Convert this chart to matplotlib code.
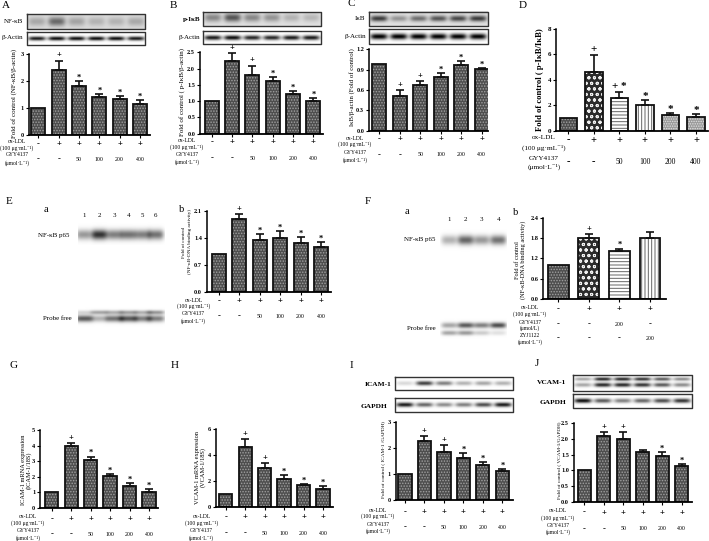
import numpy as np
from matplotlib import pyplot as plt

plt.rcParams['font.family'] = ['Liberation Serif', 'DejaVu Serif']
plt.rcParams['mathtext.default'] = 'regular'
plt.rcParams['hatch.linewidth'] = 0.7

W, H = 709, 541

# bar values and upper error ends
a_vals = [1.0, 2.4, 1.8, 1.4, 1.35, 1.15]
a_errs = [1.0, 2.75, 2.0, 1.52, 1.43, 1.3]
b_vals = [1.0, 2.22, 1.8, 1.61, 1.21, 0.99]
b_errs = [1.0, 2.47, 2.09, 1.75, 1.31, 1.1]
c_vals = [0.99, 0.51, 0.67, 0.79, 0.97, 0.91]
c_errs = [0.99, 0.6, 0.73, 0.85, 1.03, 0.93]
d_vals = [1.0, 4.6, 2.6, 2.0, 1.25, 1.1]
d_errs = [1.0, 5.9, 3.0, 2.4, 1.4, 1.3]
e_vals = [1.0, 1.9, 1.36, 1.39, 1.27, 1.16]
e_errs = [1.0, 2.01, 1.5, 1.59, 1.43, 1.29]
f_vals = [1.0, 1.8, 1.42, 1.81]
f_errs = [1.0, 1.92, 1.49, 1.97]
g_vals = [1.0, 4.0, 3.07, 2.02, 1.44, 1.05]
g_errs = [1.0, 4.15, 3.3, 2.15, 1.6, 1.22]
h_vals = [1.0, 4.6, 3.0, 2.15, 1.7, 1.42]
h_errs = [1.0, 5.2, 3.38, 2.45, 1.78, 1.6]
i_vals = [1.0, 2.27, 1.85, 1.63, 1.37, 1.12]
i_errs = [1.0, 2.47, 2.12, 1.81, 1.46, 1.2]
j_vals = [1.0, 2.1, 2.0, 1.57, 1.47, 1.13]
j_errs = [1.0, 2.22, 2.22, 1.66, 1.57, 1.19]

# significance marks over the bars
a_marks = ['', '+', '*', '*', '*', '*']
b_marks = ['', '+', '+', '*', '*', '*']
c_marks = ['', '+', '+', '*', '*', '*']
d_marks = ['', '+', '+ *', '*', '*', '*']
e_marks = ['', '+', '*', '*', '*', '*']
f_marks = ['', '+', '*', '']
g_marks = ['', '+', '*', '*', '*', '*']
h_marks = ['', '+', '+', '*', '*', '*']
i_marks = ['', '+', '+', '*', '*', '*']
j_marks = ['', '+', '+', '', '*', '*']

# treatment rows
ox_signs = ['-', '+', '+', '+', '+', '+']
gyy_doses = ['-', '-', '50', '100', '200', '400']
f_ox_signs = ['-', '+', '+', '+']
f_gyy_doses = ['-', '-', '200', '-']
f_zyj_doses = ['-', '-', '-', '200']

# band strengths in the blots
a_blot = [0.2, 0.45, 0.22, 0.16, 0.16, 0.2]
a_actin = [0.9, 0.95, 0.95, 0.95, 0.95, 0.9]
b_blot = [0.35, 0.55, 0.35, 0.3, 0.18, 0.16]
b_actin = [0.9, 0.95, 0.85, 0.85, 0.9, 0.9]
c_blot = [0.65, 0.3, 0.45, 0.55, 0.6, 0.65]
c_actin = [1.0, 1.0, 1.0, 1.0, 1.0, 1.0]
e_p65 = [0.4, 0.8, 0.5, 0.55, 0.5, 0.55]
e_probe = [0.65, 0.3, 0.55, 0.65, 0.5, 0.5]
e_probe2 = [0.15, 0.35, 0.3, 0.35, 0.3, 0.4]
f_p65 = [0.3, 0.6, 0.4, 0.55]
f_probe = [0.35, 0.65, 0.5, 0.7]
f_probe2 = [0.35, 0.4, 0.2, 0.12]
i_blot = [0.15, 0.75, 0.5, 0.3, 0.35, 0.3]
i_gapdh = [0.9, 0.6, 0.45, 0.5, 0.7, 0.9]
j_blot = [0.35, 0.85, 0.85, 0.8, 0.65, 0.45]
j_gapdh = [0.95, 0.65, 0.5, 0.6, 0.7, 0.8]

side_labels = ['ox-LDL', '(100 μg·mL⁻¹)', 'GYY4137', '(μmol·L⁻¹)']

fig = plt.figure(figsize=(W / 100, H / 100), dpi=100)
bg = fig.add_axes([0, 0, 1, 1])
bg.set_xlim(0, W)
bg.set_ylim(H, 0)
bg.axis('off')

FILLS = {
    'dots': dict(facecolor='#4e4e4e', edgecolor='#a0a0a0', hatch='......'),
    'check': dict(facecolor='#2c2c2c', edgecolor='#f0f0f0', hatch='ooo'),
    'hlines': dict(facecolor='white', edgecolor='#666666', hatch='-----'),
    'vlines': dict(facecolor='white', edgecolor='#666666', hatch='|||||'),
    'light': dict(facecolor='#9a9a9a', edgecolor='#e0e0e0', hatch='.......'),
}


def bars(vals, errs, marks, box, ticks, fmt, fills=None, fs=4.5, mark_fs=6):
    left, right, y0, ytop, c0, c1, ymax = box
    step = (c1 - c0) / (len(vals) - 1)
    ax = fig.add_axes([left / W, 1 - y0 / H, (right - left) / W, (y0 - ytop) / H])
    ax.patch.set_alpha(0)
    x = np.arange(len(vals))
    fills = fills or ['dots'] * len(vals)
    for k in x:
        ax.bar(k, vals[k], 0.68, linewidth=0, **FILLS[fills[k]])
        ax.bar(k, vals[k], 0.68, fill=False, edgecolor='#111111', linewidth=1.3)
        if errs[k] > vals[k]:
            ax.errorbar(k, vals[k], yerr=[[0], [errs[k] - vals[k]]], color='#111111',
                        elinewidth=1.2, capsize=3, capthick=1.2)
        if marks[k]:
            off = 1.0 if '+' in marks[k] else -0.5
            ax.annotate(marks[k], (k, errs[k]), xytext=(0, off), textcoords='offset points',
                        ha='center', va='bottom', fontsize=mark_fs, fontweight='bold',
                        annotation_clip=False)
    ax.set_xlim((left - c0) / step, (right - c0) / step)
    ax.set_ylim(0, ymax)
    ax.set_xticks(x)
    ax.set_xticklabels([])
    ax.set_yticks(ticks)
    ax.set_yticklabels([fmt % t for t in ticks], fontsize=fs, fontweight='bold')
    ax.tick_params(length=2, width=0.8, pad=1.5)
    ax.spines['top'].set_visible(False)
    ax.spines['right'].set_visible(False)
    ax.spines['left'].set_linewidth(1.1)
    ax.spines['bottom'].set_linewidth(1.3)
    return c0 + step * x


def row(xs, labels, y, fs=4.2):
    for px, t in zip(xs, labels):
        big = t in '+-'
        bg.text(px, y, t, ha='center', va='center', fontsize=fs + 2 if big else fs,
                fontweight='bold' if big else 'normal')


def side(lines, x, ys, fs=4):
    for t, y in zip(lines, ys):
        bg.text(x, y, t, ha='center', va='center', fontsize=fs)


def blot(strengths, box, base=0.0, ypos=0.5, ythick=0.2, lane=0.072, frame=True, extra=None, lanes=None):
    x0, x1, y0, y1 = box
    ny, nx = int((y1 - y0) * 4), int((x1 - x0) * 4)
    xx, yy = np.meshgrid(np.linspace(0, 1, nx), np.linspace(0, 1, ny))
    dark = np.full(xx.shape, base)
    n = len(strengths)
    centres = lanes if lanes is not None else (np.arange(n) + 0.5) / n
    for c, s in zip(centres, strengths):
        dark += s * np.exp(-((xx - c) / lane) ** 4 - ((yy - ypos) / ythick) ** 2)
    if extra is not None:
        for c, s in zip(centres, extra[0]):
            dark += s * np.exp(-((xx - c) / lane) ** 4 - ((yy - extra[1]) / extra[2]) ** 2)
    bg.imshow(1 - np.clip(dark, 0, 1), extent=[x0, x1, y1, y0], cmap='gray', vmin=0, vmax=1,
              aspect='auto', interpolation='bilinear')
    if frame:
        bg.plot([x0, x1, x1, x0, x0], [y0, y0, y1, y1, y0], color='#333333', lw=1.0)


# panel A
xs = bars(a_vals, a_errs, a_marks, (28.7, 150, 135.3, 53.7, 38.3, 140, 3), [0, 1, 2, 3], '%d')
row(xs, ox_signs, 143.7)
row(xs, gyy_doses, 159.5)
side(side_labels, 17, [141.5, 148.5, 155, 163])
blot(a_blot, (27, 145.3, 14.3, 29), base=0.14, ythick=0.3)
blot(a_actin, (27, 145.3, 32.3, 44.7), ythick=0.16)
bg.text(23.5, 21.7, 'NF-κB', ha='right', va='center', fontsize=5)
bg.text(23.5, 37.7, 'β-Actin', ha='right', va='center', fontsize=5)
bg.text(14, 93, 'Fold of control (NF-κB/β-actin)', rotation=90, ha='center', va='center', fontsize=5)

# panel B
xs = bars(b_vals, b_errs, b_marks, (200, 323, 133.7, 52.3, 211.7, 313.3, 2.5),
          [0, 0.5, 1, 1.5, 2, 2.5], '%.1f')
row(xs, ox_signs, 142)
row(xs, gyy_doses, 158)
side(side_labels, 187, [141, 147, 155, 162])
blot(b_blot, (202.7, 320.7, 12, 25.7), base=0.12, ypos=0.4, ythick=0.3)
blot(b_actin, (202.7, 320.7, 30.7, 44), ypos=0.55, ythick=0.17)
bg.text(200, 19, 'p-IκB', ha='right', va='center', fontsize=5, fontweight='bold')
bg.text(200, 37.7, 'β-Actin', ha='right', va='center', fontsize=5)
bg.text(182, 92, 'Fold of control ( p-IκB/β-actin)', rotation=90, ha='center', va='center', fontsize=5)

# panel C
xs = bars(c_vals, c_errs, c_marks, (369, 488, 130.7, 49.3, 379.3, 481.7, 1.2),
          [0, 0.3, 0.6, 0.9, 1.2], '%.1f')
row(xs, ox_signs, 139)
row(xs, gyy_doses, 155)
side(side_labels, 355, [138.5, 144.5, 152, 160])
blot(c_blot, (369.3, 487.7, 11.7, 26), base=0.12, ythick=0.2)
blot(c_actin, (369.3, 487.7, 29.3, 43.7), ythick=0.2)
bg.text(365.7, 18.5, 'IκB', ha='right', va='center', fontsize=5)
bg.text(365.7, 36.7, 'β-Actin', ha='right', va='center', fontsize=5)
bg.text(352, 87, 'IκB/β-actin (Fold of control)', rotation=90, ha='center', va='center', fontsize=4.9)

# panel D
xs = bars(d_vals, d_errs, d_marks, (556, 708, 130.7, 28.7, 568.3, 696, 8), [0, 2, 4, 6, 8], '%d',
          fills=['dots', 'check', 'hlines', 'vlines', 'light', 'light'], fs=5, mark_fs=8)
row(xs, ox_signs, 140, fs=5.5)
row(xs, gyy_doses, 161.5, fs=5.5)
side(side_labels, 544, [137.5, 147.5, 158, 167], fs=5.2)
bg.text(539.5, 80, 'Fold of control ( p-IκB/IκB)', rotation=90, ha='center', va='center',
        fontsize=6.2, fontweight='bold')

# panel E
xs = bars(e_vals, e_errs, e_marks, (206.7, 331, 292.3, 211, 219, 321, 2.1),
          [0, 0.7, 1.4, 2.1], '%.1f')
row(xs, ox_signs, 301)
row(xs, gyy_doses, 316.5)
side(side_labels, 193.5, [300, 306.5, 313.5, 321])
bg.text(187, 242, 'Fold of control\n(NF-κB-DNA binding activity)', rotation=90, ha='center',
        va='center', fontsize=3.7, linespacing=1.5)
lanes_e = (np.array([84, 99.3, 114.3, 128.3, 142.7, 156]) - 78) / 87
blot(e_p65, (78, 165, 222, 245), ypos=0.55, ythick=0.22, lane=0.09, frame=False, lanes=lanes_e)
blot(e_probe, (78, 165, 306, 327), ypos=0.6, ythick=0.16, lane=0.1, frame=False, lanes=lanes_e,
     extra=(e_probe2, 0.3, 0.1))
bg.text(54, 235, 'NF-κB p65', ha='center', va='center', fontsize=5)
bg.text(57, 318, 'Probe free', ha='center', va='center', fontsize=5)
for px, t in zip([84, 99.3, 114.3, 128.3, 142.7, 156], '123456'):
    bg.text(px, 215.5, t, ha='center', va='center', fontsize=5)

# panel F
xs = bars(f_vals, f_errs, f_marks, (543.3, 666, 299, 217.7, 558.3, 650, 2.4),
          [0, 0.6, 1.2, 1.8, 2.4], '%.1f', fills=['dots', 'check', 'hlines', 'vlines'])
row(xs, f_ox_signs, 309.5)
row(xs, f_gyy_doses, 324.5)
row(xs, f_zyj_doses, 338)
side(['ox-LDL', '(100 μg·mL⁻¹)', 'GYY4137', '(μmol/L)', 'ZYJ1122', '(μmol·L⁻¹)'], 530,
     [307.5, 314, 322, 328.5, 335.5, 342])
bg.text(520.5, 260, 'Fold of control\n(NF-κB-DNA binding activity)', rotation=90, ha='center',
        va='center', fontsize=4.5, linespacing=1.1)
lanes_f = (np.array([449.3, 465.7, 481.7, 498.3]) - 440) / 67
blot(f_p65, (440, 507, 228, 252), ypos=0.5, ythick=0.2, lane=0.12, frame=False, lanes=lanes_f)
blot(f_probe, (440, 507, 318, 340), ypos=0.33, ythick=0.13, lane=0.12, frame=False, lanes=lanes_f,
     extra=(f_probe2, 0.68, 0.11))
bg.text(420, 239.5, 'NF-κB p65', ha='center', va='center', fontsize=5)
bg.text(421, 328.5, 'Probe free', ha='center', va='center', fontsize=5)
for px, t in zip([449.3, 465.7, 481.7, 498.3], '1234'):
    bg.text(px, 219.5, t, ha='center', va='center', fontsize=5)

# panel G
xs = bars(g_vals, g_errs, g_marks, (40, 158, 508, 430, 51.7, 149, 5), [0, 1, 2, 3, 4, 5], '%d')
row(xs, ox_signs, 519)
row(xs, gyy_doses, 534.5)
side(side_labels, 28, [517, 523.5, 531, 538])
bg.text(26, 470, 'ICAM-1 mRNA expression\n(ICAM-1/18S)', rotation=90, ha='center', va='center',
        fontsize=4.6, linespacing=1.0)

# panel H
xs = bars(h_vals, h_errs, h_marks, (216, 333, 507, 429, 225.7, 323, 6), [0, 2, 4, 6], '%d')
row(xs, ox_signs, 517.5)
row(xs, gyy_doses, 533.5)
side(side_labels, 201.5, [516, 523, 530, 538])
bg.text(200.5, 467, 'VCAM-1 mRNA expression\n(VCAM-1/18S)', rotation=90, ha='center', va='center',
        fontsize=4.6, linespacing=1.0)

# panel I
xs = bars(i_vals, i_errs, i_marks, (395.7, 513, 500, 422.3, 405, 502.3, 3), [0, 1, 2, 3], '%d')
row(xs, ox_signs, 512)
row(xs, gyy_doses, 527.5)
side(side_labels, 378, [510, 516.5, 524, 531.5])
blot(i_blot, (395.3, 513.3, 377.3, 390), ypos=0.48, ythick=0.17)
blot(i_gapdh, (395.3, 513.3, 398.3, 411.7), ypos=0.48, ythick=0.16)
bg.text(378, 384, 'ICAM-1', ha='center', va='center', fontsize=5.3, fontweight='bold')
bg.text(374, 406, 'GAPDH', ha='center', va='center', fontsize=5.3, fontweight='bold')
bg.text(383, 460, 'Fold of control ( ICAM-1 /GAPDH)', rotation=90, ha='center', va='center', fontsize=3.8)

# panel J
xs = bars(j_vals, j_errs, j_marks, (573.7, 691.7, 501.7, 423.3, 584.3, 681.7, 2.5),
          [0, 0.5, 1, 1.5, 2, 2.5], '%.1f')
row(xs, ox_signs, 512.5)
row(xs, gyy_doses, 529)
side(side_labels, 558, [510, 518, 525.5, 532.5])
blot(j_blot, (572.7, 691.7, 375, 391), ypos=0.62, ythick=0.13, extra=(j_blot, 0.25, 0.11))
blot(j_gapdh, (572.7, 691.7, 394.3, 408.3), ypos=0.48, ythick=0.16)
bg.text(552, 383, 'VCAM-1', ha='center', va='center', fontsize=5.3, fontweight='bold')
bg.text(553, 402, 'GAPDH', ha='center', va='center', fontsize=5.3, fontweight='bold')
bg.text(559, 460, 'Fold of control ( VCAM-1/GAPDH)', rotation=90, ha='center', va='center', fontsize=3.8)

# panel letters
for t, px, py in [('A', 6, 5), ('B', 173, 5), ('C', 351, 4), ('D', 523, 5), ('E', 9, 201),
                  ('F', 368, 201), ('G', 13, 366), ('H', 175, 366), ('I', 351, 366), ('J', 537, 364)]:
    bg.text(px, py, t, ha='center', va='center', fontsize=8)
for t, px, py in [('a', 45.7, 210), ('b', 181.7, 210), ('a', 406.7, 211), ('b', 516, 212.5)]:
    bg.text(px, py, t, ha='center', va='center', fontsize=7.5)

bg.set_xlim(0, W)
bg.set_ylim(H, 0)
fig.savefig('out.png', dpi=100)
